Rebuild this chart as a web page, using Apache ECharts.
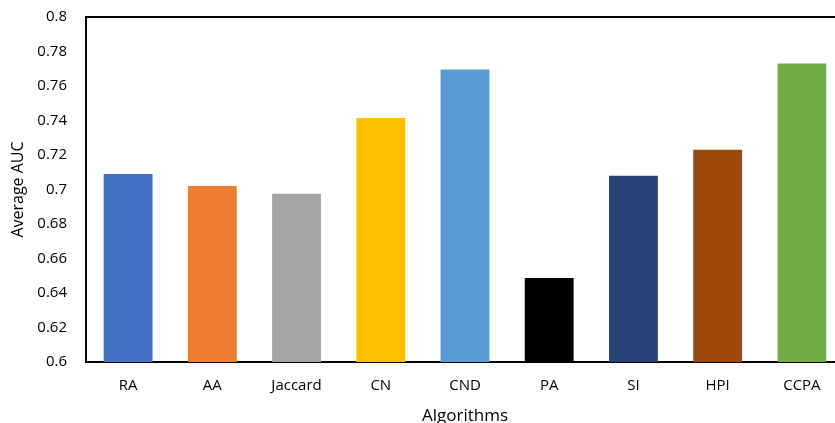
<!DOCTYPE html>
<html><head><meta charset="utf-8">
<script src="https://cdn.jsdelivr.net/npm/echarts@6/dist/echarts.min.js"></script>
<style>html,body{margin:0;padding:0;background:#fff}#c{width:835px;height:423px}</style>
</head><body><div id="c"></div>
<script>
const categories = ['RA','AA','Jaccard','CN','CND','PA','SI','HPI','CCPA'];
const aucValues = [0.709, 0.702, 0.6975, 0.7415, 0.7695, 0.6487, 0.708, 0.723, 0.773];
const barColors = ['#4472C4','#ED7D31','#A5A5A5','#FFC000','#5B9BD5','#000000','#264478','#9E480E','#70AD47'];
const yMin = 0.6, yMax = 0.8, yStep = 0.02;

const font = 'Open Sans';
const chart = echarts.init(document.getElementById('c'), null, {renderer:'canvas'});
chart.setOption({
  animation:false,
  grid:{left:86, right:-9, top:17, bottom:61, show:true, borderColor:'#000', borderWidth:2,
        containLabel:false, outerBoundsMode:'none'},
  xAxis:{
    type:'category', data:categories,
    axisLine:{show:true, lineStyle:{color:'#000', width:2}},
    axisTick:{show:false},
    axisLabel:{color:'#000', fontFamily:font, fontSize:15, margin:16},
    name:'Algorithms', nameLocation:'middle', nameGap:46,
    nameTextStyle:{color:'#000', fontFamily:font, fontSize:17}
  },
  yAxis:{
    type:'value', min:yMin, max:yMax, interval:yStep,
    axisLine:{show:true, lineStyle:{color:'#000', width:2}},
    axisTick:{show:false},
    splitLine:{show:false},
    axisLabel:{color:'#000', fontFamily:font, fontSize:15, margin:19,
      formatter:v=>String(parseFloat(v.toFixed(2)))},
    name:'Average AUC', nameLocation:'middle', nameGap:58,
    nameTextStyle:{color:'#000', fontFamily:font, fontSize:16}
  },
  series:[{
    type:'bar', barWidth:'58%',
    data:aucValues.map((v,i)=>({value:v, itemStyle:{color:barColors[i]}}))
  }]
});
</script></body></html>
